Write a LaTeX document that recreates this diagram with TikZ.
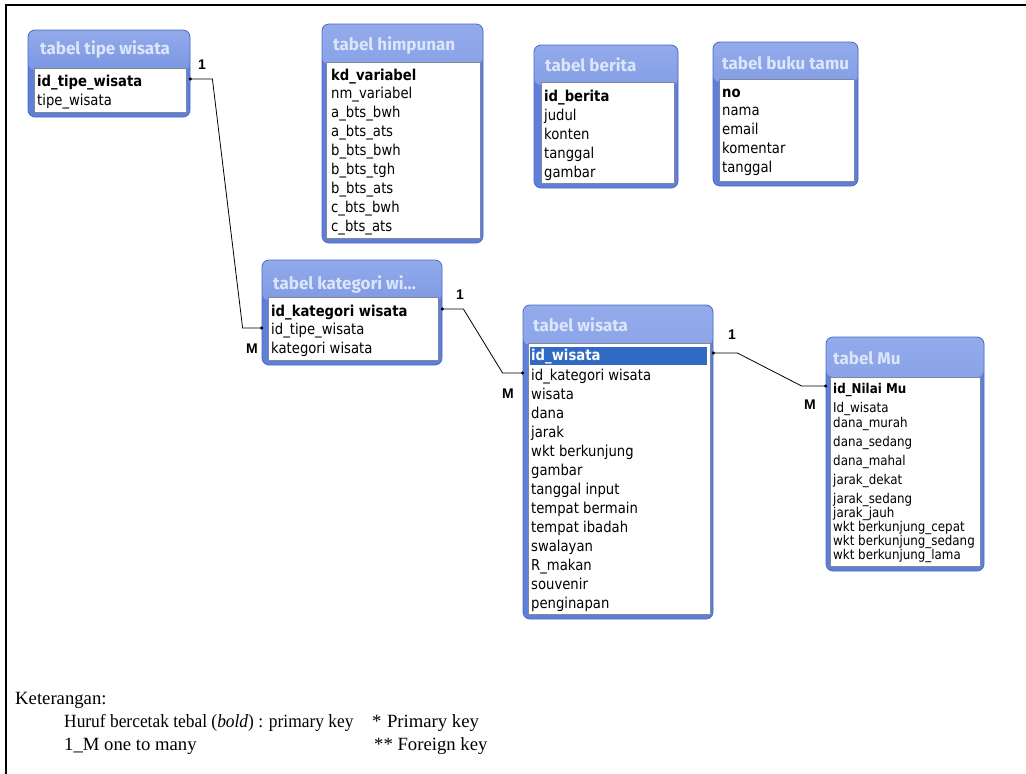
\documentclass[tikz,border=0pt]{standalone}
\usepackage{fontspec}
\usepackage{graphicx}
\usetikzlibrary{fit,calc}
\newfontfamily\fieldfont[FakeStretch=0.88]{DejaVu Sans}
\newfontfamily\titlefont{Fira Sans}
\newfontfamily\cardfont{Liberation Sans}
\newfontfamily\legendfont{Liberation Serif}
\definecolor{tblblue}{HTML}{5F7FD8}
\definecolor{tbltop}{HTML}{93ABEB}
\definecolor{tbledge}{HTML}{4C6BC9}
\definecolor{titletext}{HTML}{DCE6FA}
\definecolor{innerline}{HTML}{7F8899}
\definecolor{hilite}{HTML}{316AC5}
\tikzset{
  tframe/.style={draw=tbledge, fill=tblblue, rounded corners=7pt, line width=0.8pt, inner sep=0pt,
    path picture={\shade[top color=tbltop, bottom color=tblblue]
      (path picture bounding box.north west) rectangle ([yshift=-40pt]path picture bounding box.north east);}},
  tinner/.style={draw=innerline, fill=white, line width=0.9pt, inner sep=0pt},
  ttitle/.style={anchor=west, inner sep=0pt, text height=12pt, text depth=3.5pt,
    font=\titlefont\bfseries\fontsize{17}{17}\selectfont, text=titletext},
  trow/.style={anchor=west, inner sep=0pt, text height=11pt, text depth=3pt,
    font=\fieldfont\fontsize{15}{15}\selectfont},
  tkey/.style={trow, font=\fieldfont\bfseries\fontsize{15}{15}\selectfont},
  mrow/.style={anchor=west, inner sep=0pt, text height=9.5pt, text depth=2.5pt,
    font=\fieldfont\fontsize{13.5}{13.5}\selectfont},
  mkey/.style={mrow, font=\fieldfont\bfseries\fontsize{13.5}{13.5}\selectfont},
  hibar/.style={fill=hilite, inner sep=0pt},
  conn/.style={draw=black, line width=0.8pt},
  enddot/.style={fill=black},
  card/.style={inner sep=0pt, font=\cardfont\bfseries\fontsize{14}{14}\selectfont},
  legend/.style={anchor=base west, inner sep=0pt, font=\legendfont\fontsize{18.7}{18.7}\selectfont},
  outerframe/.style={draw=black, line width=2.2pt}
}
\begin{document}
\begin{tikzpicture}[x=1pt,y=-1pt]
\useasboundingbox (0,0) rectangle (1026,774);
\fill[white] (0,0) rectangle (1026,774);
\draw[outerframe] (6,774) -- (6,5) -- (1026,5);

% ---- tabel tipe wisata
\node[tframe, fit={(28,30)(190,117)}] (tA) {};
\node[ttitle] (hA) at (40,50) {tabel tipe wisata};
\node[tinner, fit={(34,68)(186,112)}] (iA) {};
\node[tkey] (rA1) at (37,82) {id\_tipe\_wisata};
\node[trow] (rA2) at (37,101) {tipe\_wisata};

% ---- tabel himpunan
\node[tframe, fit={(322,24)(483,243)}] (tB) {};
\node[ttitle] (hB) at (333,46) {tabel himpunan};
\node[tinner, fit={(326,62)(480,238)}] (iB) {};
\node[tkey] (rB1) at (331,76) {kd\_variabel};
\foreach \t [count=\i from 2] in {nm\_variabel,a\_bts\_bwh,a\_bts\_ats,b\_bts\_bwh,b\_bts\_tgh,b\_bts\_ats,c\_bts\_bwh,c\_bts\_ats}
  \node[trow] (rB\i) at (331,{76+18.9*(\i-1)}) {\t};

% ---- tabel berita
\node[tframe, fit={(534,45)(678,188)}] (tC) {};
\node[ttitle] (hC) at (545,67) {tabel berita};
\node[tinner, fit={(541,82)(674,183)}] (iC) {};
\node[tkey] (rC1) at (544,97) {id\_berita};
\foreach \t [count=\i from 2] in {judul,konten,tanggal,gambar}
  \node[trow] (rC\i) at (544,{97+19*(\i-1)}) {\t};

% ---- tabel buku tamu
\node[tframe, fit={(713,42)(858,186)}] (tD) {};
\node[ttitle] (hD) at (722,65) {tabel buku tamu};
\node[tinner, fit={(719,79)(854,181)}] (iD) {};
\node[tkey] (rD1) at (722,93) {no};
\foreach \t [count=\i from 2] in {nama,email,komentar,tanggal}
  \node[trow] (rD\i) at (722,{93+18.8*(\i-1)}) {\t};

% ---- tabel kategori wisata
\node[tframe, fit={(262,260)(442,365)}] (tE) {};
\node[ttitle] (hE) at (273,285) {tabel kategori wi...};
\node[tinner, fit={(268,297)(438,360)}] (iE) {};
\node[tkey] (rE1) at (271,312) {id\_kategori wisata};
\node[trow] (rE2) at (271,330) {id\_tipe\_wisata};
\node[trow] (rE3) at (271,349) {kategori wisata};

% ---- tabel wisata
\node[tframe, fit={(523,305)(713,619)}] (tF) {};
\node[ttitle] (hF) at (533,327) {tabel wisata};
\node[tinner, fit={(528,343)(710,614)}] (iF) {};
\node[hibar, fit={(530,347)(707,365)}] (bF) {};
\node[tkey, text=white] (rF1) at (531,356) {id\_wisata};
\foreach \t [count=\i from 2] in {id\_kategori wisata,wisata,dana,jarak,wkt berkunjung,gambar,tanggal input,tempat bermain,tempat ibadah,swalayan,R\_makan,souvenir,penginapan}
  \node[trow] (rF\i) at (531,{357+19*(\i-1)}) {\t};

% ---- tabel Mu
\node[tframe, fit={(826,337)(984,571)}] (tG) {};
\node[ttitle] (hG) at (833,360) {tabel Mu};
\node[tinner, fit={(830,377)(980,566)}] (iG) {};
\node[mkey] (rG1) at (833,390) {id\_Nilai Mu};
\foreach \t/\yy [count=\i from 2] in {Id\_wisata/409,dana\_murah/424,dana\_sedang/443,dana\_mahal/462,jarak\_dekat/481,jarak\_sedang/500,jarak\_jauh/514,wkt berkunjung\_cepat/528,wkt berkunjung\_sedang/542,wkt berkunjung\_lama/556}
  \node[mrow] (rG\i) at (833,\yy) {\t};

% ---- relationships
\coordinate (p1s) at ($(tA.east |- rA1.west)+(0,-3)$);
\coordinate (p1e) at ($(tE.west |- rE2.west)+(0,-2)$);
\draw[conn] (p1s) -- ++(22,0) -- ($(p1e)+(-19,0)$) -- (p1e);
\coordinate (p2s) at ($(tE.east |- rE1.west)+(0,-3)$);
\coordinate (p2e) at ($(tF.west |- rF2.west)+(0,-3)$);
\draw[conn] (p2s) -- ++(21,0) -- ($(p2e)+(-20,0)$) -- (p2e);
\coordinate (p3s) at ($(tF.east |- rF1.west)+(0,-3)$);
\coordinate (p3e) at ($(tG.west |- rG1.west)+(0,-4)$);
\draw[conn] (p3s) -- ++(24,0) -- ($(p3e)+(-24,0)$) -- (p3e);
\foreach \p in {p1s,p1e,p2s,p2e,p3s,p3e}
  \fill[enddot] (\p) circle (1.7pt);

\node[card] (c1a) at (202,65) {1};
\node[card] (c1b) at (252,349) {M};
\node[card] (c2a) at (460,295) {1};
\node[card] (c2b) at (508,394) {M};
\node[card] (c3a) at (732,335) {1};
\node[card] (c3b) at (810,405) {M};

% ---- legend
\node[legend] (k0) at (15,704) {Keterangan:};
\node[legend] (k1) at (64,727) {\scalebox{0.93}[1]{Huruf bercetak tebal (\textit{bold}) : primary key}};
\node[legend] (k2) at (372,727) {*\hspace{5.5pt}Primary key};
\node[legend] (k3) at (64,750) {1\_M one to many};
\node[legend] (k4) at (374,750) {** Foreign key};
\end{tikzpicture}
\end{document}
